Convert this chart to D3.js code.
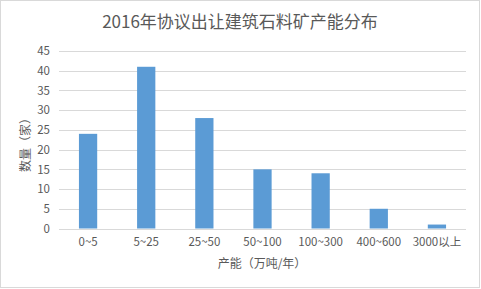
<!DOCTYPE html>
<html>
<head>
<meta charset="utf-8">
<script src="https://cdn.jsdelivr.net/npm/d3@7"></script>
<style>
  html, body { margin: 0; padding: 0; background: #fff; }
  svg { display: block; }
  text { font-family: "Noto Sans CJK SC", "Microsoft YaHei", sans-serif; fill: #595959; }
</style>
</head>
<body>
<svg id="chart" width="481" height="289"></svg>
<script>
// Capacity ranges (10k tonnes / year) and number of mines in each
const categories = ["0~5", "5~25", "25~50", "50~100", "100~300", "400~600", "3000以上"];
const counts = [24, 41, 28, 15, 14, 5, 1];
const yTicks = [0, 5, 10, 15, 20, 25, 30, 35, 40, 45];

const titleText = "2016年协议出让建筑石料矿产能分布";
const xTitle = "产能（万吨/年）";
const yTitle = "数量（家）";

const W = 481, H = 289;
const plot = { left: 59, right: 466, top: 51, bottom: 228.5 };

const svg = d3.select("#chart");

// outer frame
svg.append("rect")
  .attr("x", 0.5).attr("y", 0.5)
  .attr("width", W - 2).attr("height", H - 2)
  .attr("fill", "#fff").attr("stroke", "#d9d9d9").attr("stroke-width", 1);

const x = d3.scaleBand()
  .domain(categories)
  .range([plot.left, plot.right])
  .paddingInner(0.686)
  .paddingOuter(0.343);

const y = d3.scaleLinear()
  .domain([0, 45])
  .range([plot.bottom, plot.top]);

// horizontal gridlines
svg.append("g")
  .selectAll("line")
  .data(yTicks)
  .join("line")
  .attr("x1", plot.left).attr("x2", plot.right)
  .attr("y1", d => Math.round(y(d)) + 0.5)
  .attr("y2", d => Math.round(y(d)) + 0.5)
  .attr("stroke", "#d9d9d9").attr("stroke-width", 1);

// y tick labels
const yAxis = d3.axisLeft(y).tickValues(yTicks).tickSize(0).tickPadding(0);
const gy = svg.append("g")
  .attr("transform", `translate(${plot.left - 9},0)`)
  .call(yAxis);
gy.select(".domain").remove();
gy.selectAll("text")
  .attr("font-size", 11.5)
  .attr("font-family", "'Noto Sans CJK SC', sans-serif")
  .attr("fill", "#595959");

// bars
svg.append("g")
  .selectAll("rect")
  .data(categories.map((c, i) => ({ c, v: counts[i] })))
  .join("rect")
  .attr("x", d => x(d.c))
  .attr("width", x.bandwidth())
  .attr("y", d => y(d.v))
  .attr("height", d => y(0) - y(d.v))
  .attr("fill", "#5b9bd5");

// x tick labels
const xAxis = d3.axisBottom(x).tickSize(0).tickPadding(0);
const gx = svg.append("g")
  .attr("transform", `translate(0,${plot.bottom + 9.5})`)
  .call(xAxis);
gx.select(".domain").remove();
gx.selectAll("text")
  .attr("font-size", 11.5)
  .attr("font-family", "'Noto Sans CJK SC', sans-serif")
  .attr("fill", "#595959");

// title
svg.append("text")
  .attr("x", 240).attr("y", 28)
  .attr("text-anchor", "middle")
  .attr("font-size", 17)
  .text(titleText);

// axis titles
svg.append("text")
  .attr("x", 262).attr("y", 268)
  .attr("text-anchor", "middle")
  .attr("font-size", 12)
  .text(xTitle);

svg.append("text")
  .attr("transform", "translate(30,142) rotate(-90)")
  .attr("text-anchor", "middle")
  .attr("font-size", 12)
  .text(yTitle);
</script>
</body>
</html>
